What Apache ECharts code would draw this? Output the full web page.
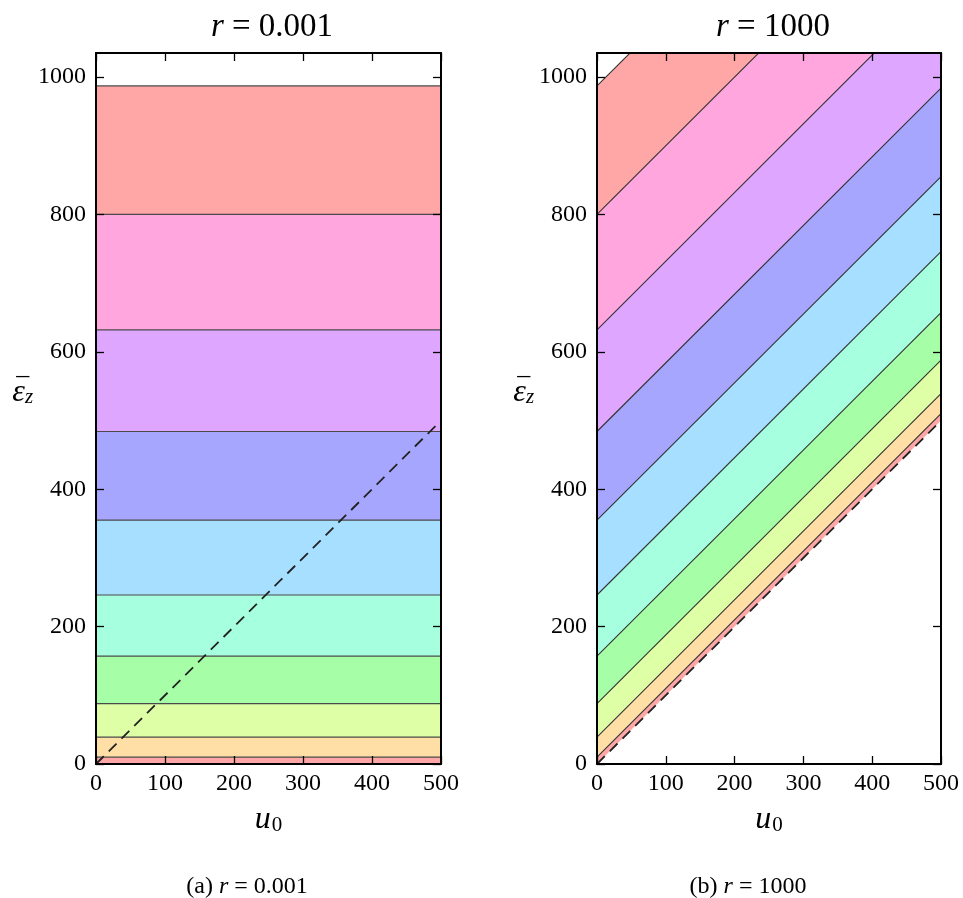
<!DOCTYPE html>
<html><head><meta charset="utf-8">
<script src="https://cdn.jsdelivr.net/npm/echarts@6/dist/echarts.min.js"></script>
<style>html,body{margin:0;padding:0;background:#fff}#c{width:963px;height:898px}</style>
</head><body><div id="c"></div>
<script>
// contour levels (eps_z); also the right panel's values at u0 = 0
const levels = [10, 39, 88, 157, 246, 355, 484, 632, 800, 987];
// right panel: same contour lines read at u0 = 0 and at u0 = 500
const rightAtStart = [10, 39, 88, 157, 246, 355, 484, 632, 800, 987];
const rightAtEnd = [510, 539, 588, 657, 746, 855, 984, 1132, 1300, 1487];
const uRange = [0, 500];
const diagonalEps = [0, 500];
const xTicks = [0, 100, 200, 300, 400, 500];
const yTicks = [0, 200, 400, 600, 800, 1000];
const titles = ['0.001', '1000'];
const captions = ['(a)', '(b)'];

const bandColors = ['#FFA6A6', '#FFDFA6', '#DFFFA6', '#A6FFA6', '#A6FFDF', '#A6DFFF', '#A6A6FF', '#DFA6FF', '#FFA6DF', '#FFA6A6'];
const FONT = 'Liberation Serif';
const grids = [
  { left: 96, top: 53, width: 345, height: 711 },
  { left: 597, top: 53, width: 344, height: 711 }
];
const YMAX = 1035;

function xAx(gi, pos, withLabels) {
  return {
    type: 'value', gridIndex: gi, position: pos, min: 0, max: 500, interval: 100, z: 50,
    axisLine: { show: true, onZero: false, lineStyle: { color: '#000', width: 2 } },
    axisTick: { show: true, inside: true, length: 8, lineStyle: { color: '#000', width: 1.3 }, customValues: xTicks },
    axisLabel: { show: withLabels, customValues: xTicks, margin: 8, fontFamily: FONT, fontSize: 24, color: '#000', formatter: v => String(v) },
    splitLine: { show: false },
    name: withLabels ? '{u|u}{s|0}' : '', nameLocation: 'middle', nameGap: 40,
    nameTextStyle: { rich: {
      u: { fontFamily: FONT, fontStyle: 'italic', fontSize: 32, color: '#000' },
      s: { fontFamily: FONT, fontSize: 21, color: '#000', verticalAlign: 'bottom', padding: [10, 0, 0, 1] }
    } }
  };
}
function yAx(gi, pos, withLabels) {
  return {
    type: 'value', gridIndex: gi, position: pos, min: 0, max: YMAX, interval: 200, z: 50,
    axisLine: { show: true, onZero: false, lineStyle: { color: '#000', width: 2 } },
    axisTick: { show: true, inside: true, length: 8, lineStyle: { color: '#000', width: 1.3 }, customValues: yTicks },
    axisLabel: { show: withLabels, customValues: yTicks, margin: 10, fontFamily: FONT, fontSize: 24, color: '#000', formatter: v => String(v) },
    splitLine: { show: false },
    name: withLabels ? '{b|_}\n{e|ε}{s|z}' : '', nameLocation: 'middle', nameRotate: 0, nameGap: 83,
    nameTextStyle: { align: 'left', padding: [0, 0, 52, 0], rich: {
      b: { fontFamily: FONT, fontSize: 26, color: '#000', lineHeight: 20, padding: [0, 0, 0, 4] },
      e: { fontFamily: FONT, fontStyle: 'italic', fontSize: 32, color: '#000', lineHeight: 30 },
      s: { fontFamily: FONT, fontStyle: 'italic', fontSize: 21, color: '#000', padding: [10, 0, 0, 0] }
    } }
  };
}

const series = [];
// left panel: horizontal bands (filled from axis up to each level, largest first)
for (let k = levels.length - 1; k >= 0; k--) {
  series.push({
    type: 'line', xAxisIndex: 0, yAxisIndex: 0, symbol: 'none', silent: true,
    z: 2 + (levels.length - k),
    data: [[uRange[0], levels[k]], [uRange[1], levels[k]]],
    lineStyle: { color: '#4a4a4a', width: 1.2 },
    areaStyle: { color: bandColors[k], opacity: 1, origin: 'start' }
  });
}
series.push({
  type: 'line', xAxisIndex: 0, yAxisIndex: 0, symbol: 'none', silent: true, z: 20,
  data: [[uRange[0], diagonalEps[0]], [uRange[1], diagonalEps[1]]],
  lineStyle: { color: '#222', width: 1.8, type: [11, 7] }
});
// right panel: diagonal bands
for (let k = levels.length - 1; k >= 0; k--) {
  series.push({
    type: 'line', xAxisIndex: 2, yAxisIndex: 2, symbol: 'none', silent: true, clip: true,
    z: 2 + (levels.length - k),
    data: [[uRange[0], rightAtStart[k]], [uRange[1], rightAtEnd[k]]],
    lineStyle: { color: '#333', width: 1.1 },
    areaStyle: { color: bandColors[k], opacity: 1, origin: 'start' }
  });
}
series.push({
  type: 'line', xAxisIndex: 2, yAxisIndex: 2, symbol: 'none', silent: true, z: 18,
  data: [[uRange[0], diagonalEps[0]], [uRange[1], diagonalEps[1]]],
  lineStyle: { width: 0 },
  areaStyle: { color: '#fff', opacity: 1, origin: 'start' }
});
series.push({
  type: 'line', xAxisIndex: 2, yAxisIndex: 2, symbol: 'none', silent: true, z: 20,
  data: [[uRange[0], diagonalEps[0]], [uRange[1], diagonalEps[1]]],
  lineStyle: { color: '#222', width: 1.8, type: [11, 7] }
});

const titleRich = (size) => ({
  i: { fontFamily: FONT, fontStyle: 'italic', fontWeight: 'normal', fontSize: size, color: '#000' },
  n: { fontFamily: FONT, fontWeight: 'normal', fontSize: size, color: '#000' }
});

const chart = echarts.init(document.getElementById('c'), null, { renderer: 'canvas' });
chart.setOption({
  animation: false,
  backgroundColor: '#fff',
  title: [
    { text: '{i|r}{n| = ' + titles[0] + '}', left: 267, top: 6, textAlign: 'center', textStyle: { fontWeight: 'normal', rich: titleRich(33) } },
    { text: '{i|r}{n| = ' + titles[1] + '}', left: 768, top: 6, textAlign: 'center', textStyle: { fontWeight: 'normal', rich: titleRich(33) } },
    { text: '{n|' + captions[0] + ' }{i|r}{n| = ' + titles[0] + '}', left: 242, top: 870, textAlign: 'center', textStyle: { fontWeight: 'normal', rich: titleRich(24) } },
    { text: '{n|' + captions[1] + ' }{i|r}{n| = ' + titles[1] + '}', left: 743, top: 870, textAlign: 'center', textStyle: { fontWeight: 'normal', rich: titleRich(24) } }
  ],
  grid: grids.map(g => Object.assign({ show: false }, g)),
  xAxis: [xAx(0, 'bottom', true), xAx(0, 'top', false), xAx(1, 'bottom', true), xAx(1, 'top', false)],
  yAxis: [yAx(0, 'left', true), yAx(0, 'right', false), yAx(1, 'left', true), yAx(1, 'right', false)],
  series: series
});
</script></body></html>
